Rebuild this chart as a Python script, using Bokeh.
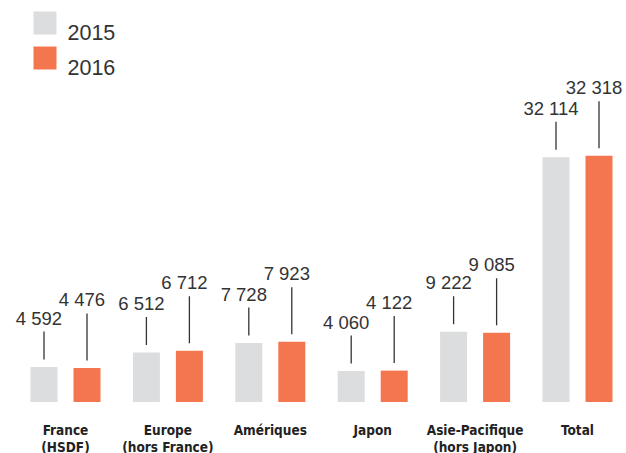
from bokeh.plotting import figure
from bokeh.models import ColumnDataSource, Range1d
from bokeh.transform import dodge
from bokeh.core.properties import value
from bokeh.embed import file_html
from bokeh.resources import INLINE

# ---- data ----
categories = ["France\n(HSDF)", "Europe\n(hors France)", "Amériques", "Japon",
              "Asie-Pacifique\n(hors Japon)", "Total"]
values_2015 = [4592, 6512, 7728, 4060, 9222, 32114]
values_2016 = [4476, 6712, 7923, 4122, 9085, 32318]
labels_2015 = ["4 592", "6 512", "7 728", "4 060", "9 222", "32 114"]
labels_2016 = ["4 476", "6 712", "7 923", "4 122", "9 085", "32 318"]
series_names = ["2015", "2016"]

# ---- layout / style ----
W, H = 626, 453
GRAY = "#dcdddf"
ORANGE = "#f4764f"
TEXT = "#333333"
GROUP_PX = 102.4          # pixels between group centres
UPP = 1 / 0.00762         # data units per pixel (vertical)
BASE_FROM_BOTTOM = 51.5   # baseline distance from figure bottom, px
FIRST_CENTER_PX = 65.0    # first group centre, px from figure left

x_start = -FIRST_CENTER_PX / GROUP_PX
x_end = x_start + W / GROUP_PX
y_start = -BASE_FROM_BOTTOM * UPP
y_end = y_start + H * UPP

def px_x(px):   # figure pixel (from left) -> data x
    return x_start + px / GROUP_PX

def px_y(py):   # figure pixel (from top) -> data y
    return y_end - py * UPP

p = figure(width=W, height=H, output_backend="svg", toolbar_location=None,
           x_range=Range1d(x_start, x_end), y_range=Range1d(y_start, y_end),
           min_border=0, min_border_left=0, min_border_right=0,
           min_border_top=0, min_border_bottom=0)
p.axis.visible = False
p.grid.visible = False
p.outline_line_color = None
p.background_fill_color = "white"
p.border_fill_color = "white"

idx = list(range(len(categories)))
line1 = [c.split("\n")[0] for c in categories]
line2 = [c.split("\n")[1] if "\n" in c else "" for c in categories]

OFF = 21.5 / GROUP_PX
BAR_W = 27 / GROUP_PX
GAP = 7.5 * UPP

src = ColumnDataSource(dict(
    idx=idx, v15=values_2015, v16=values_2016, l15=labels_2015, l16=labels_2016,
    line1=line1, line2=line2,
    s15_0=[v + GAP for v in values_2015], s15_1=[v + GAP + 28 * UPP for v in values_2015],
    s16_0=[v + GAP for v in values_2016], s16_1=[v + GAP + 47 * UPP for v in values_2016],
    t15=[v + GAP + (28 + 13.5) * UPP for v in values_2015],
    t16=[v + GAP + (47 + 13.5) * UPP for v in values_2016],
    cat_y1=[px_y(429.5)] * len(idx), cat_y2=[px_y(446)] * len(idx),
))

x15 = dodge("idx", -OFF, range=p.x_range)
x16 = dodge("idx", OFF, range=p.x_range)

p.vbar(x=x15, top="v15", bottom=0, width=BAR_W, source=src, fill_color=GRAY, line_color=None)
p.vbar(x=x16, top="v16", bottom=0, width=BAR_W, source=src, fill_color=ORANGE, line_color=None)

p.segment(x0=x15, y0="s15_0", x1=x15, y1="s15_1", source=src, line_color=TEXT, line_width=1.3)
p.segment(x0=x16, y0="s16_0", x1=x16, y1="s16_1", source=src, line_color=TEXT, line_width=1.3)

num_font = value("Liberation Sans")
p.text(x=x15, y="t15", text="l15", source=src, text_align="center", text_baseline="alphabetic",
       x_offset=-5, text_font=num_font, text_font_size="18.5px", text_color=TEXT)
p.text(x=x16, y="t16", text="l16", source=src, text_align="center", text_baseline="alphabetic",
       x_offset=-5, text_font=num_font, text_font_size="18.5px", text_color=TEXT)

cat_font = value("DejaVu Sans Condensed, sans-serif")
for col, ycol in (("line1", "cat_y1"), ("line2", "cat_y2")):
    p.text(x="idx", y=ycol, text=col, source=src, text_align="center", text_baseline="alphabetic",
           text_font=cat_font, text_font_style="bold", text_font_size="13.5px", text_color="#222222")

# ---- legend (manual) ----
sw_x0, sw_x1 = 33, 56
sw_rows = [(11, 34), (46, 69)]
for (t, b), col, name, base in zip(sw_rows, [GRAY, ORANGE], series_names, [32, 67]):
    p.quad(left=[px_x(sw_x0)], right=[px_x(sw_x1)], top=[px_y(t)], bottom=[px_y(b)],
           fill_color=col, line_color=None)
    p.text(x=[px_x(67)], y=[px_y(base)], text=[name], text_align="left",
           text_baseline="alphabetic", text_font=num_font, text_font_size="21.5px", text_color=TEXT)

open("out.html", "w").write(file_html(p, INLINE))
